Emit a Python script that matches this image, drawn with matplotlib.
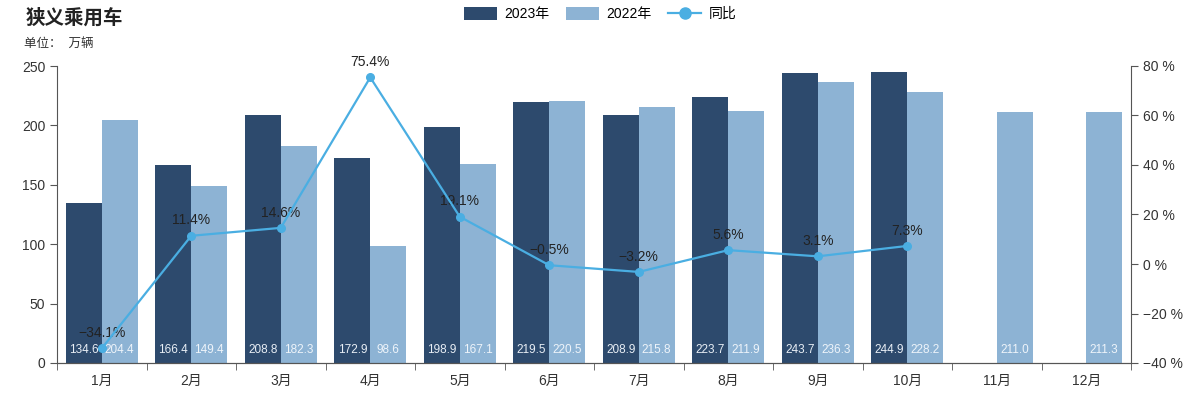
import matplotlib
matplotlib.use("Agg")
import matplotlib.pyplot as plt
import numpy as np
from matplotlib.patches import FancyBboxPatch, Patch
from matplotlib.lines import Line2D

plt.rcParams['font.family'] = ['Liberation Sans', 'Noto Sans CJK SC', 'DejaVu Sans']
plt.rcParams['axes.unicode_minus'] = True

months = ['1月', '2月', '3月', '4月', '5月', '6月', '7月', '8月', '9月', '10月', '11月', '12月']
sales_2023 = [134.6, 166.4, 208.8, 172.9, 198.9, 219.5, 208.9, 223.7, 243.7, 244.9, None, None]
sales_2022 = [204.4, 149.4, 182.3, 98.6, 167.1, 220.5, 215.8, 211.9, 236.3, 228.2, 211.0, 211.3]
yoy = [-34.1, 11.4, 14.6, 75.4, 19.1, -0.5, -3.2, 5.6, 3.1, 7.3]
left_ticks = [0, 50, 100, 150, 200, 250]
right_ticks = [-40, -20, 0, 20, 40, 60, 80]

c23 = '#2d4a6d'
c22 = '#8db3d4'
cline = '#4aaee2'
axcol = '#555555'

fig = plt.figure(figsize=(12, 3.96), dpi=100)
ax = fig.add_axes([57/1200, 33/396, (1131-57)/1200, (363-66)/396])
ax2 = ax.twinx()

x = np.arange(len(months))
w = 0.4
for i in range(len(months)):
    v23 = sales_2023[i]
    v22 = sales_2022[i]
    if v23 is not None:
        ax.bar(x[i] - w/2, v23, width=w, color=c23)
        ax.text(x[i] - w/2, 11, f'{v23:.1f}', ha='center', va='center', color='#e8eef5', fontsize=8.5)
    ax.bar(x[i] + w/2, v22, width=w, color=c22)
    ax.text(x[i] + w/2, 11, f'{v22:.1f}', ha='center', va='center', color='#eef4fa', fontsize=8.5)

ax.set_xlim(-0.5, len(months) - 0.5)
ax.set_ylim(0, 250)
ax.set_yticks(left_ticks)
ax.set_xticks(x)
ax.set_xticklabels(months)
ax.set_xticks(np.arange(-0.5, len(months)), minor=True)
ax.tick_params(axis='x', which='major', length=0, labelsize=10, colors='#333333', pad=8)
ax.tick_params(axis='x', which='minor', length=5, color=axcol)
ax.tick_params(axis='y', length=5, labelsize=10, colors='#333333', color=axcol)

xl = x[:len(yoy)]
ax2.plot(xl, yoy, color=cline, lw=1.6, marker='o', ms=5.5, zorder=5)
for xi, v in zip(xl, yoy):
    s = f'{v:.1f}%'.replace('-', '\u2212')
    ax2.annotate(s, (xi, v), xytext=(0, 6), textcoords='offset points', ha='center', va='bottom',
                 fontsize=10, color='#222222')
ax2.set_ylim(-40, 80)
ax2.set_yticks(right_ticks)
ax2.set_yticklabels([(f'{t} %').replace('-', '\u2212') for t in right_ticks])
ax2.tick_params(axis='y', length=5, labelsize=10, colors='#333333', color=axcol)

for a in (ax, ax2):
    a.spines['top'].set_visible(False)
    for s in ('left', 'right', 'bottom'):
        a.spines[s].set_color(axcol)
ax2.spines['left'].set_visible(False)
ax.spines['right'].set_visible(False)

fig.text(26/1200, 1 - 18/396, '狭义乘用车', fontsize=14, fontweight='bold', va='center', ha='left', color='#222222')
fig.text(24/1200, 1 - 44/396, '单位：  万辆', fontsize=9, va='center', ha='left', color='#333333')

handles = [Patch(facecolor=c23, label='2023年'),
           Patch(facecolor=c22, label='2022年'),
           Line2D([0], [0], color=cline, marker='o', ms=8, lw=1.6, label='同比')]
fig.legend(handles=handles, loc='center', bbox_to_anchor=(0.5, 1 - 14/396), ncol=3, frameon=False,
           fontsize=10, handlelength=2.4, handleheight=1.1, columnspacing=1.2, handletextpad=0.5)

fig.savefig('out.png', dpi=100)
